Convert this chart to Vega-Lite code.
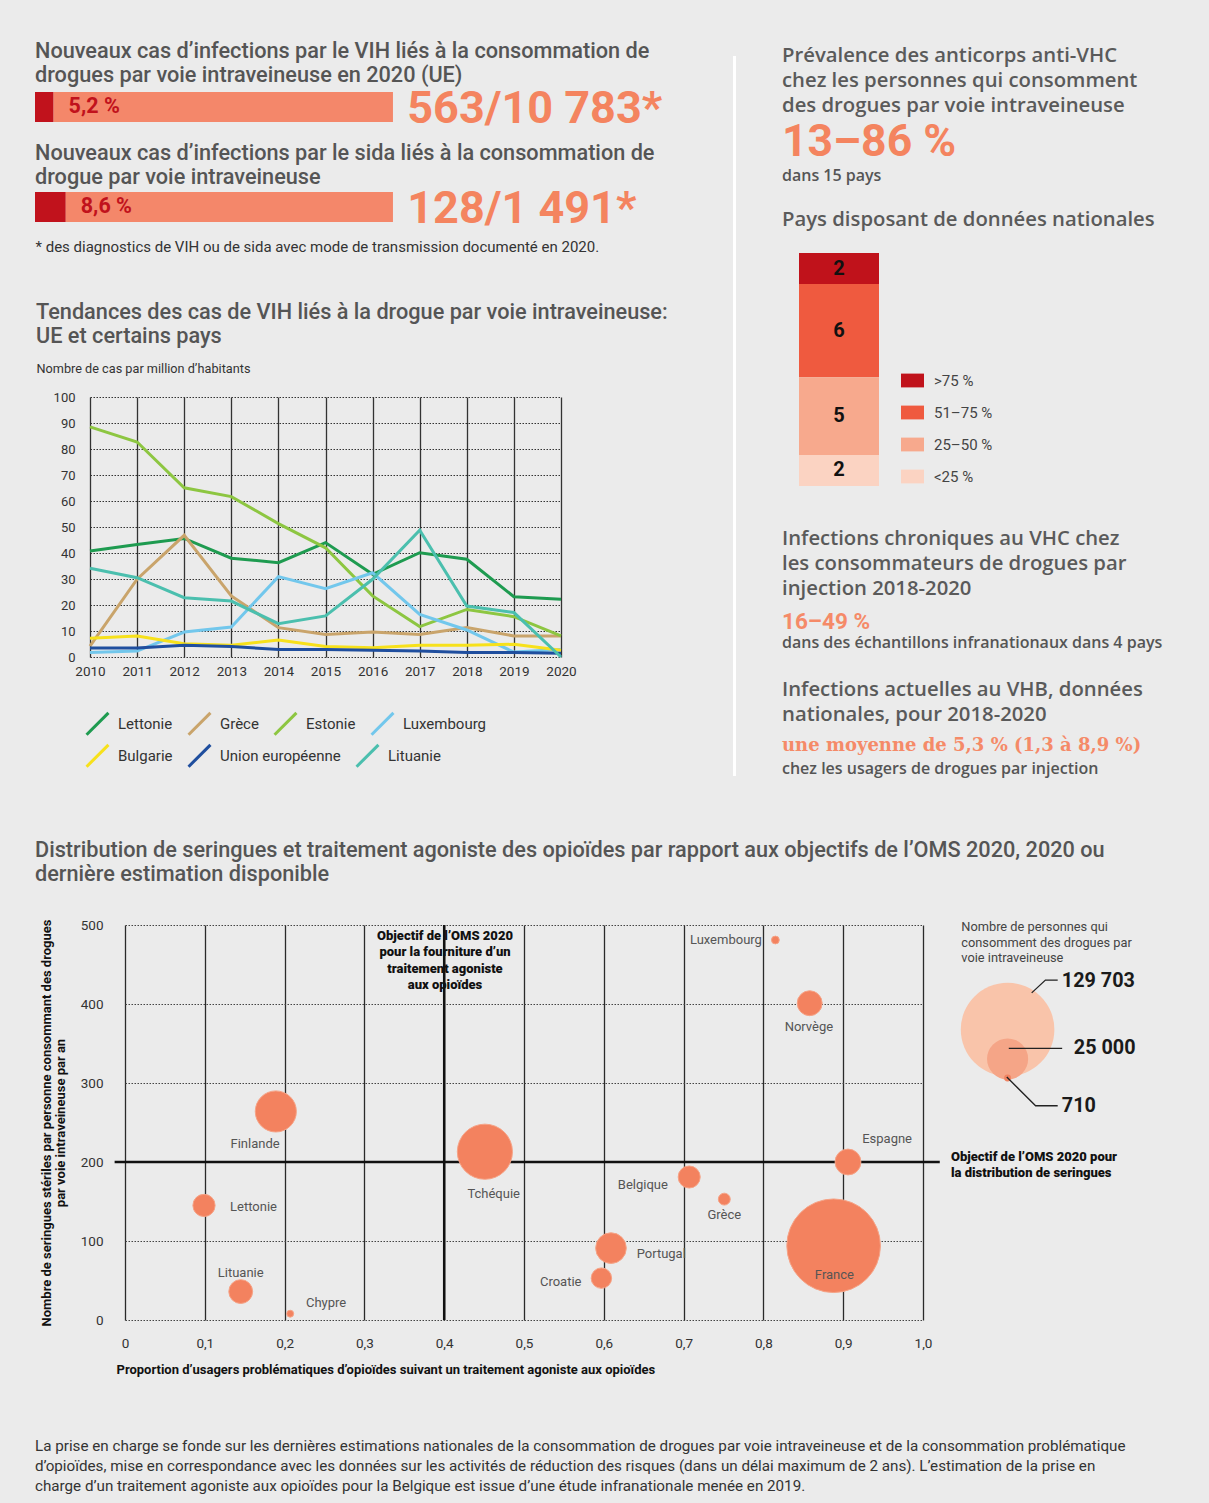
{
  "$schema": "https://vega.github.io/schema/vega-lite/v6.json",
  "background": "#ebebeb",
  "padding": {"left": 35, "top": 29, "right": 50, "bottom": 30},
  "config": {
    "view": {"stroke": null},
    "font": "Roboto",
    "title": {"anchor": "start", "frame": "bounds", "font": "Roboto", "fontWeight": 500, "fontSize": 21.7, "color": "#555555", "lineHeight": 24, "offset": 0},
    "axis": {"labelFont": "Roboto", "titleFont": "Roboto", "labelFlush": false},
    "legend": {"labelFont": "Roboto"}
  },
  "columns": 1,
  "spacing": 62,
  "resolve": {"scale": {"color": "independent"}, "legend": {"color": "independent"}},
  "concat": [
    {
      "columns": 2,
      "spacing": 65,
      "resolve": {"scale": {"color": "independent", "stroke": "independent"}, "legend": {"color": "independent", "stroke": "independent"}},
      "concat": [
        {
          "columns": 1,
          "spacing": 0,
          "resolve": {"scale": {"color": "independent", "stroke": "independent"}, "legend": {"color": "independent", "stroke": "independent"}},
          "concat": [
            {"width": 1, "height": 1, "data": {"values": [{}]}, "mark": {"type": "text"}, "encoding": {"text": {"value": ""}}},
            {
              "columns": 1,
              "spacing": 48,
              "resolve": {"scale": {"color": "independent", "stroke": "independent"}, "legend": {"color": "independent", "stroke": "independent"}},
              "concat": [
                {
                  "columns": 1,
                  "spacing": 11,
                  "resolve": {"scale": {"color": "independent"}, "legend": {"color": "independent"}},
                  "concat": [
                    {
                      "width": 630, "height": 30,
                      "title": {"text": ["Nouveaux cas d’infections par le VIH liés à la consommation de", "drogues par voie intraveineuse en 2020 (UE)"], "offset": 0},
                      "data": {"values": [
                        {"indicateur": "VIH", "categorie": "Consommation par voie intraveineuse", "part": 5.2, "rang": 1, "etiquette": "5,2 %", "total": "563/10 783*"},
                        {"indicateur": "VIH", "categorie": "Autres", "part": 94.8, "rang": 2, "etiquette": "", "total": ""}
                      ]},
                      "layer": [
                        {"mark": {"type": "bar"}, "encoding": {
                          "y": {"field": "indicateur", "type": "nominal", "axis": null, "scale": {"paddingInner": 0, "paddingOuter": 0}},
                          "x": {"field": "part", "type": "quantitative", "stack": "zero", "scale": {"domain": [0, 176], "nice": false}, "axis": null},
                          "color": {"field": "categorie", "type": "nominal", "scale": {"domain": ["Consommation par voie intraveineuse", "Autres"], "range": ["#c1121c", "#f4876a"]}, "legend": null},
                          "order": {"field": "rang"}
                        }},
                        {"transform": [{"filter": "datum.rang == 1"}], "mark": {"type": "text", "align": "left", "dx": 15, "fontSize": 21.5, "fontWeight": "bold", "color": "#c1121c"}, "encoding": {
                          "y": {"field": "indicateur", "type": "nominal"},
                          "x": {"field": "part", "type": "quantitative"}, "text": {"field": "etiquette"}}},
                        {"transform": [{"filter": "datum.rang == 1"}], "mark": {"type": "text", "align": "left", "dy": 2, "fontSize": 45, "fontWeight": "bold", "color": "#f4845f"}, "encoding": {
                          "y": {"field": "indicateur", "type": "nominal"},
                          "x": {"datum": 104}, "text": {"field": "total"}}}
                      ]
                    },
                    {
                      "width": 630, "height": 30,
                      "title": {"text": ["Nouveaux cas d’infections par le sida liés à la consommation de", "drogue par voie intraveineuse"], "offset": -2},
                      "data": {"values": [
                        {"indicateur": "sida", "categorie": "Consommation par voie intraveineuse", "part": 8.6, "rang": 1, "etiquette": "8,6 %", "total": "128/1 491*"},
                        {"indicateur": "sida", "categorie": "Autres", "part": 91.4, "rang": 2, "etiquette": "", "total": ""}
                      ]},
                      "layer": [
                        {"mark": {"type": "bar"}, "encoding": {
                          "y": {"field": "indicateur", "type": "nominal", "axis": null, "scale": {"paddingInner": 0, "paddingOuter": 0}},
                          "x": {"field": "part", "type": "quantitative", "stack": "zero", "scale": {"domain": [0, 176], "nice": false},
                            "axis": {"labels": false, "ticks": false, "domain": false, "grid": false, "title": "* des diagnostics de VIH ou de sida avec mode de transmission documenté en 2020.", "titleFontSize": 15, "titleFontWeight": "normal", "titleColor": "#333", "titleAnchor": "start", "titlePadding": 17}},
                          "color": {"field": "categorie", "type": "nominal", "scale": {"domain": ["Consommation par voie intraveineuse", "Autres"], "range": ["#c1121c", "#f4876a"]}, "legend": null},
                          "order": {"field": "rang"}
                        }},
                        {"transform": [{"filter": "datum.rang == 1"}], "mark": {"type": "text", "align": "left", "dx": 15, "fontSize": 21.5, "fontWeight": "bold", "color": "#c1121c"}, "encoding": {
                          "y": {"field": "indicateur", "type": "nominal"},
                          "x": {"field": "part", "type": "quantitative"}, "text": {"field": "etiquette"}}},
                        {"transform": [{"filter": "datum.rang == 1"}], "mark": {"type": "text", "align": "left", "dy": 2, "fontSize": 45, "fontWeight": "bold", "color": "#f4845f"}, "encoding": {
                          "y": {"field": "indicateur", "type": "nominal"},
                          "x": {"datum": 104}, "text": {"field": "total"}}}
                      ]
                    }
                  ]
                },
                {
                  "columns": 2,
                  "spacing": 0,
                  "resolve": {"scale": {"color": "independent", "stroke": "independent"}, "legend": {"color": "independent", "stroke": "independent"}},
                  "concat": [
                    {"width": 1, "height": 1, "data": {"values": [{}]}, "mark": {"type": "text"}, "encoding": {"text": {"value": ""}}},
                    {
                      "width": 471, "height": 260,
                      "title": {"text": ["Tendances des cas de VIH liés à la drogue par voie intraveineuse:", "UE et certains pays"], "offset": 14},
                      "data": {"values": [
                        {"pays": "Lettonie", "annee": 2010, "cas": 40.8}, {"pays": "Lettonie", "annee": 2011, "cas": 43.3}, {"pays": "Lettonie", "annee": 2012, "cas": 45.6}, {"pays": "Lettonie", "annee": 2013, "cas": 38}, {"pays": "Lettonie", "annee": 2014, "cas": 36.3}, {"pays": "Lettonie", "annee": 2015, "cas": 44}, {"pays": "Lettonie", "annee": 2016, "cas": 31.8}, {"pays": "Lettonie", "annee": 2017, "cas": 40.1}, {"pays": "Lettonie", "annee": 2018, "cas": 37.6}, {"pays": "Lettonie", "annee": 2019, "cas": 23.2}, {"pays": "Lettonie", "annee": 2020, "cas": 22.2},
                        {"pays": "Grèce", "annee": 2010, "cas": 4.2}, {"pays": "Grèce", "annee": 2011, "cas": 29.9}, {"pays": "Grèce", "annee": 2012, "cas": 46.8}, {"pays": "Grèce", "annee": 2013, "cas": 23.5}, {"pays": "Grèce", "annee": 2014, "cas": 11.3}, {"pays": "Grèce", "annee": 2015, "cas": 8.7}, {"pays": "Grèce", "annee": 2016, "cas": 9.6}, {"pays": "Grèce", "annee": 2017, "cas": 8.7}, {"pays": "Grèce", "annee": 2018, "cas": 11.3}, {"pays": "Grèce", "annee": 2019, "cas": 8.1}, {"pays": "Grèce", "annee": 2020, "cas": 8.1},
                        {"pays": "Estonie", "annee": 2010, "cas": 88.5}, {"pays": "Estonie", "annee": 2011, "cas": 82.7}, {"pays": "Estonie", "annee": 2012, "cas": 65.1}, {"pays": "Estonie", "annee": 2013, "cas": 61.7}, {"pays": "Estonie", "annee": 2014, "cas": 51.3}, {"pays": "Estonie", "annee": 2015, "cas": 42}, {"pays": "Estonie", "annee": 2016, "cas": 23.5}, {"pays": "Estonie", "annee": 2017, "cas": 11.7}, {"pays": "Estonie", "annee": 2018, "cas": 18.3}, {"pays": "Estonie", "annee": 2019, "cas": 15.5}, {"pays": "Estonie", "annee": 2020, "cas": 8.1},
                        {"pays": "Luxembourg", "annee": 2010, "cas": 1.7}, {"pays": "Luxembourg", "annee": 2011, "cas": 2.3}, {"pays": "Luxembourg", "annee": 2012, "cas": 9.6}, {"pays": "Luxembourg", "annee": 2013, "cas": 11.5}, {"pays": "Luxembourg", "annee": 2014, "cas": 30.9}, {"pays": "Luxembourg", "annee": 2015, "cas": 26.3}, {"pays": "Luxembourg", "annee": 2016, "cas": 32.4}, {"pays": "Luxembourg", "annee": 2017, "cas": 16.4}, {"pays": "Luxembourg", "annee": 2018, "cas": 10.4}, {"pays": "Luxembourg", "annee": 2019, "cas": 1.9}, {"pays": "Luxembourg", "annee": 2020, "cas": 2.9},
                        {"pays": "Bulgarie", "annee": 2010, "cas": 7.2}, {"pays": "Bulgarie", "annee": 2011, "cas": 8.1}, {"pays": "Bulgarie", "annee": 2012, "cas": 5.1}, {"pays": "Bulgarie", "annee": 2013, "cas": 4.5}, {"pays": "Bulgarie", "annee": 2014, "cas": 6.5}, {"pays": "Bulgarie", "annee": 2015, "cas": 4}, {"pays": "Bulgarie", "annee": 2016, "cas": 3.6}, {"pays": "Bulgarie", "annee": 2017, "cas": 4.5}, {"pays": "Bulgarie", "annee": 2018, "cas": 4.5}, {"pays": "Bulgarie", "annee": 2019, "cas": 4.9}, {"pays": "Bulgarie", "annee": 2020, "cas": 2.6},
                        {"pays": "Union européenne", "annee": 2010, "cas": 3.5}, {"pays": "Union européenne", "annee": 2011, "cas": 3.5}, {"pays": "Union européenne", "annee": 2012, "cas": 4.5}, {"pays": "Union européenne", "annee": 2013, "cas": 4}, {"pays": "Union européenne", "annee": 2014, "cas": 2.9}, {"pays": "Union européenne", "annee": 2015, "cas": 2.9}, {"pays": "Union européenne", "annee": 2016, "cas": 2.6}, {"pays": "Union européenne", "annee": 2017, "cas": 2.3}, {"pays": "Union européenne", "annee": 2018, "cas": 1.7}, {"pays": "Union européenne", "annee": 2019, "cas": 1.7}, {"pays": "Union européenne", "annee": 2020, "cas": 1.4},
                        {"pays": "Lituanie", "annee": 2010, "cas": 34.1}, {"pays": "Lituanie", "annee": 2011, "cas": 30.5}, {"pays": "Lituanie", "annee": 2012, "cas": 22.8}, {"pays": "Lituanie", "annee": 2013, "cas": 21.5}, {"pays": "Lituanie", "annee": 2014, "cas": 12.8}, {"pays": "Lituanie", "annee": 2015, "cas": 15.8}, {"pays": "Lituanie", "annee": 2016, "cas": 29.9}, {"pays": "Lituanie", "annee": 2017, "cas": 48.8}, {"pays": "Lituanie", "annee": 2018, "cas": 19.6}, {"pays": "Lituanie", "annee": 2019, "cas": 17.1}, {"pays": "Lituanie", "annee": 2020, "cas": 0}
                      ]},
                      "encoding": {
                        "x": {"field": "annee", "type": "quantitative", "scale": {"domain": [2010, 2020], "nice": false, "zero": false},
                          "axis": {"values": [2010, 2011, 2012, 2013, 2014, 2015, 2016, 2017, 2018, 2019, 2020], "format": "d", "title": null, "grid": true, "gridColor": "#333", "gridWidth": 1.3, "domain": false, "ticks": false, "labelFontSize": 13.5, "labelColor": "#333", "labelPadding": 7}},
                        "y": {"field": "cas", "type": "quantitative", "scale": {"domain": [0, 100], "nice": false},
                          "axis": {"values": [0, 10, 20, 30, 40, 50, 60, 70, 80, 90, 100], "title": "Nombre de cas par million d’habitants", "titleAngle": 0, "titleAlign": "left", "titleBaseline": "bottom", "titleX": -54, "titleY": -22, "titleFontSize": 12.7, "titleFontWeight": "normal", "titleColor": "#333", "grid": true, "gridDash": [1.5, 1.5], "gridColor": "#333", "gridWidth": 1, "domain": false, "ticks": false, "labelPadding": 15, "labelFontSize": 13, "labelColor": "#333"}}
                      },
                      "layer": [
                        {
                          "transform": [{"filter": {"field": "pays", "oneOf": ["Lettonie", "Grèce", "Estonie", "Luxembourg"]}}],
                          "mark": {"type": "line", "strokeWidth": 3},
                          "encoding": {
                            "color": {"field": "pays", "type": "nominal",
                              "scale": {"domain": ["Lettonie", "Grèce", "Estonie", "Luxembourg"], "range": ["#1e9b50", "#c9a46b", "#8dc641", "#72c7ec"]},
                              "legend": {"orient": "none", "legendX": -5, "legendY": 314, "direction": "horizontal", "title": null, "symbolType": "M-1,1L1,-1", "symbolSize": 480, "symbolStrokeWidth": 3, "labelFontSize": 15, "labelColor": "#333", "labelOffset": 8, "columnPadding": 9}}
                          }
                        },
                        {
                          "transform": [{"filter": {"field": "pays", "oneOf": ["Bulgarie", "Union européenne", "Lituanie"]}}],
                          "mark": {"type": "line", "strokeWidth": 3},
                          "encoding": {
                            "stroke": {"field": "pays", "type": "nominal",
                              "scale": {"domain": ["Bulgarie", "Union européenne", "Lituanie"], "range": ["#f7e11b", "#1f4e9e", "#4bbfae"]},
                              "legend": {"orient": "none", "legendX": -5, "legendY": 346, "direction": "horizontal", "title": null, "symbolType": "M-1,1L1,-1", "symbolSize": 480, "symbolStrokeWidth": 3, "labelFontSize": 15, "labelColor": "#333", "labelOffset": 8, "columnPadding": 9}}
                          }
                        }
                      ]
                    }
                  ]
                }
              ]
            }
          ]
        },
        {
          "columns": 2,
          "spacing": 46,
          "resolve": {"scale": {"color": "independent"}, "legend": {"color": "independent"}},
          "concat": [
            {
              "width": 3, "height": 741,
              "data": {"values": [{"debut": 0, "fin": 720}]},
              "mark": {"type": "rule", "color": "#ffffff", "strokeWidth": 3},
              "encoding": {
                "y": {"field": "debut", "type": "quantitative", "scale": {"domain": [0, 741], "nice": false}, "axis": null},
                "y2": {"field": "fin"}
              }
            },
            {
              "columns": 1,
              "spacing": 5,
              "resolve": {"scale": {"color": "independent"}, "legend": {"color": "independent"}},
              "concat": [
                {"width": 1, "height": 1, "data": {"values": [{}]}, "mark": {"type": "text"}, "encoding": {"text": {"value": ""}}},
                {
                  "columns": 1,
                  "spacing": 43,
                  "resolve": {"scale": {"color": "independent"}, "legend": {"color": "independent"}},
                  "concat": [
                    {
                      "columns": 1,
                      "spacing": 24,
                      "resolve": {"scale": {"color": "independent"}, "legend": {"color": "independent"}},
                      "concat": [
                        {
                          "width": 380, "height": 18,
                          "title": {"text": ["Prévalence des anticorps anti-VHC", "chez les personnes qui consomment", "des drogues par voie intraveineuse"], "font": "Open Sans", "fontWeight": 600, "fontSize": 20.3, "lineHeight": 25, "color": "#5a5a5a",
                            "subtitle": "13–86 %", "subtitleFont": "Roboto", "subtitleFontSize": 44.5, "subtitleFontWeight": "bold", "subtitleColor": "#f4845f", "subtitlePadding": 4, "subtitleLineHeight": 48, "offset": 3},
                          "data": {"values": [{"note": "dans 15 pays"}]},
                          "mark": {"type": "text", "align": "left", "baseline": "middle", "font": "Open Sans", "fontSize": 16, "fontWeight": 600, "color": "#555"},
                          "encoding": {"text": {"field": "note"}, "x": {"datum": 0, "type": "quantitative", "scale": {"domain": [0, 1]}, "axis": null}}
                        },
                        {
                          "width": 114, "height": 233,
                          "title": {"text": "Pays disposant de données nationales", "font": "Open Sans", "fontWeight": 600, "fontSize": 20.3, "color": "#5a5a5a", "offset": 23},
                          "data": {"values": [
                            {"groupe": "Pays", "prevalence": ">75 %", "pays": 2, "rang": 4},
                            {"groupe": "Pays", "prevalence": "51–75 %", "pays": 6, "rang": 3},
                            {"groupe": "Pays", "prevalence": "25–50 %", "pays": 5, "rang": 2},
                            {"groupe": "Pays", "prevalence": "<25 %", "pays": 2, "rang": 1}
                          ]},
                          "transform": [
                            {"stack": "pays", "groupby": ["groupe"], "sort": [{"field": "rang", "order": "ascending"}], "as": ["debut", "fin"]},
                            {"calculate": "(datum.debut + datum.fin) / 2", "as": "milieu"}
                          ],
                          "layer": [
                            {"mark": {"type": "bar", "width": 80}, "encoding": {
                              "x": {"field": "groupe", "type": "nominal", "axis": null},
                              "y": {"field": "debut", "type": "quantitative", "scale": {"domain": [0, 15], "nice": false}, "axis": null},
                              "y2": {"field": "fin"},
                              "color": {"field": "prevalence", "type": "nominal",
                                "scale": {"domain": [">75 %", "51–75 %", "25–50 %", "<25 %"], "range": ["#c0121b", "#ef5a3f", "#f7a98d", "#fbd3c2"]},
                                "legend": {"orient": "none", "legendX": 119, "legendY": 116, "title": null, "symbolType": "M-1,-0.6H1V0.6H-1Z", "symbolSize": 529, "symbolStrokeWidth": 0, "labelFontSize": 15, "labelColor": "#444", "labelOffset": 10, "rowPadding": 12}}
                            }},
                            {"mark": {"type": "text", "fontSize": 20, "fontWeight": "bold", "color": "#111", "baseline": "middle"}, "encoding": {
                              "x": {"field": "groupe", "type": "nominal"},
                              "y": {"field": "milieu", "type": "quantitative"},
                              "text": {"field": "pays"}
                            }}
                          ]
                        }
                      ]
                    },
                    {
                      "columns": 1,
                      "spacing": 27,
                      "concat": [
                        {
                          "width": 380, "height": 18,
                          "title": {"text": ["Infections chroniques au VHC chez", "les consommateurs de drogues par", "injection 2018-2020"], "font": "Open Sans", "fontWeight": 600, "fontSize": 20.3, "lineHeight": 25, "color": "#5a5a5a",
                            "subtitle": "16–49 %", "subtitleFont": "Roboto", "subtitleFontSize": 22.5, "subtitleFontWeight": "bold", "subtitleColor": "#f58a68", "subtitlePadding": 11, "offset": 1},
                          "data": {"values": [{"note": "dans des échantillons infranationaux dans 4 pays"}]},
                          "mark": {"type": "text", "align": "left", "baseline": "middle", "font": "Open Sans", "fontSize": 16, "fontWeight": 600, "color": "#555"},
                          "encoding": {"text": {"field": "note"}, "x": {"datum": 0, "type": "quantitative", "scale": {"domain": [0, 1]}, "axis": null}}
                        },
                        {
                          "width": 380, "height": 18,
                          "title": {"text": ["Infections actuelles au VHB, données", "nationales, pour 2018-2020"], "font": "Open Sans", "fontWeight": 600, "fontSize": 20.3, "lineHeight": 25, "color": "#5a5a5a",
                            "subtitle": "une moyenne de 5,3 % (1,3 à 8,9 %)", "subtitleFont": "DejaVu Serif", "subtitleFontSize": 18, "subtitleFontWeight": "bold", "subtitleColor": "#f58a68", "subtitlePadding": 12, "offset": 5},
                          "data": {"values": [{"note": "chez les usagers de drogues par injection"}]},
                          "mark": {"type": "text", "align": "left", "baseline": "middle", "font": "Open Sans", "fontSize": 16, "fontWeight": 600, "color": "#555"},
                          "encoding": {"text": {"field": "note"}, "x": {"datum": 0, "type": "quantitative", "scale": {"domain": [0, 1]}, "axis": null}}
                        }
                      ]
                    }
                  ]
                }
              ]
            }
          ]
        }
      ]
    },
    {
      "columns": 2,
      "spacing": 4,
      "title": {"text": ["Distribution de seringues et traitement agoniste des opioïdes par rapport aux objectifs de l’OMS 2020, 2020 ou", "dernière estimation disponible"], "offset": 32},
      "resolve": {"scale": {"color": "independent"}, "legend": {"color": "independent"}},
      "concat": [
        {"width": 1, "height": 1, "data": {"values": [{}]}, "mark": {"type": "text"}, "encoding": {"text": {"value": ""}}},
        {
          "width": 798, "height": 395,
          "layer": [
            {
              "data": {"values": [{"objectif": 0.4, "bas": 0, "haut": 500}]},
              "mark": {"type": "rule", "color": "#111", "strokeWidth": 2.5},
              "encoding": {
                "x": {"field": "objectif", "type": "quantitative", "scale": {"domain": [0, 1], "nice": false},
                  "axis": {"values": [0, 0.1, 0.2, 0.3, 0.4, 0.5, 0.6, 0.7, 0.8, 0.9, 1], "labelExpr": "datum.value == 0 ? '0' : replace(format(datum.value, '.1f'), '.', ',')", "grid": true, "gridColor": "#2a2a2a", "gridWidth": 1.3, "domain": false, "ticks": false, "labelPadding": 16, "labelFontSize": 13.5, "labelColor": "#333",
                    "title": "Proportion d’usagers problématiques d’opioïdes suivant un traitement agoniste aux opioïdes", "titleFontSize": 13, "titleFontWeight": "bold", "titleColor": "#111", "titleAlign": "left", "titleX": -9, "titlePadding": 14}},
                "y": {"field": "bas", "type": "quantitative", "scale": {"domain": [0, 500], "nice": false},
                  "axis": {"values": [0, 100, 200, 300, 400, 500], "grid": true, "gridDash": [1.5, 1.5], "gridColor": "#444", "gridWidth": 1, "domain": false, "ticks": false, "labelPadding": 22, "labelFontSize": 13.5, "labelColor": "#333",
                    "title": ["Nombre de seringues stériles par personne consommant des drogues", "par voie intraveineuse par an"], "titleFontSize": 13, "titleFontWeight": "bold", "titleColor": "#111", "titleLineHeight": 14, "titlePadding": 13}},
                "y2": {"field": "haut"}
              }
            },
            {
              "data": {"values": [{"objectif": 200, "debut": -0.013, "fin": 1.021}]},
              "mark": {"type": "rule", "color": "#111", "strokeWidth": 2.5},
              "encoding": {
                "y": {"field": "objectif", "type": "quantitative"},
                "x": {"field": "debut", "type": "quantitative"},
                "x2": {"field": "fin"}
              }
            },
            {
              "data": {"values": [
                {"pays": "Finlande", "traitement": 0.189, "seringues": 264, "pop": 25000, "lx": 0.163, "ly": 223},
                {"pays": "Tchéquie", "traitement": 0.451, "seringues": 213, "pop": 45000, "lx": 0.462, "ly": 160},
                {"pays": "Lettonie", "traitement": 0.099, "seringues": 145, "pop": 7300, "lx": 0.161, "ly": 143},
                {"pays": "Lituanie", "traitement": 0.145, "seringues": 36, "pop": 8400, "lx": 0.145, "ly": 60},
                {"pays": "Chypre", "traitement": 0.207, "seringues": 8, "pop": 710, "lx": 0.252, "ly": 22},
                {"pays": "Croatie", "traitement": 0.597, "seringues": 53, "pop": 6200, "lx": 0.546, "ly": 48},
                {"pays": "Portugal", "traitement": 0.609, "seringues": 91, "pop": 13900, "lx": 0.672, "ly": 84},
                {"pays": "Belgique", "traitement": 0.707, "seringues": 181, "pop": 7200, "lx": 0.649, "ly": 171},
                {"pays": "Grèce", "traitement": 0.751, "seringues": 153, "pop": 2100, "lx": 0.751, "ly": 133},
                {"pays": "France", "traitement": 0.888, "seringues": 94, "pop": 129703, "lx": 0.889, "ly": 57},
                {"pays": "Espagne", "traitement": 0.906, "seringues": 200, "pop": 9900, "lx": 0.955, "ly": 229},
                {"pays": "Norvège", "traitement": 0.858, "seringues": 401, "pop": 9200, "lx": 0.857, "ly": 371},
                {"pays": "Luxembourg", "traitement": 0.815, "seringues": 481, "pop": 900, "lx": 0.753, "ly": 481}
              ]},
              "layer": [
                {
                  "mark": {"type": "circle", "opacity": 1, "color": "#f3825f", "stroke": "#f6a386", "strokeWidth": 1},
                  "encoding": {
                    "x": {"field": "traitement", "type": "quantitative"},
                    "y": {"field": "seringues", "type": "quantitative"},
                    "size": {"field": "pop", "type": "quantitative", "scale": {"type": "linear", "domain": [0, 129703], "range": [0, 8760]}, "legend": null},
                    "order": {"field": "pop", "sort": "descending"}
                  }
                },
                {
                  "mark": {"type": "text", "fontSize": 13, "color": "#555", "baseline": "middle"},
                  "encoding": {
                    "x": {"field": "lx", "type": "quantitative"},
                    "y": {"field": "ly", "type": "quantitative"},
                    "text": {"field": "pays"}
                  }
                }
              ]
            },
            {
              "data": {"values": [
                {"texte": "Objectif de l’OMS 2020\npour la fourniture d’un\ntraitement agoniste\naux opioïdes", "x": 0.401, "y": 494}
              ]},
              "mark": {"type": "text", "align": "center", "baseline": "top", "lineBreak": "\n", "lineHeight": 16.5, "fontSize": 13, "fontWeight": 900, "color": "#111"},
              "encoding": {"x": {"field": "x", "type": "quantitative"}, "y": {"field": "y", "type": "quantitative"}, "text": {"field": "texte"}}
            },
            {
              "data": {"values": [
                {"texte": "Objectif de l’OMS 2020 pour\nla distribution de seringues", "x": 1.035, "y": 214},
                {"texte": "Nombre de personnes qui\nconsomment des drogues par\nvoie intraveineuse", "x": 1.048, "y": 505}
              ]},
              "layer": [
                {"transform": [{"filter": "datum.y < 300"}], "mark": {"type": "text", "align": "left", "baseline": "top", "lineBreak": "\n", "lineHeight": 16, "fontSize": 13, "fontWeight": 900, "color": "#111"},
                  "encoding": {"x": {"field": "x", "type": "quantitative"}, "y": {"field": "y", "type": "quantitative"}, "text": {"field": "texte"}}},
                {"transform": [{"filter": "datum.y > 300"}], "mark": {"type": "text", "align": "left", "baseline": "top", "lineBreak": "\n", "lineHeight": 15.5, "fontSize": 12.8, "color": "#444"},
                  "encoding": {"x": {"field": "x", "type": "quantitative"}, "y": {"field": "y", "type": "quantitative"}, "text": {"field": "texte"}}}
              ]
            },
            {
              "data": {"values": [
                {"valeur": "129 703", "pop": 129703, "cx": 1.106, "cy": 367.7, "lx": 1.174, "ly": 429.5},
                {"valeur": "25 000", "pop": 25000, "cx": 1.106, "cy": 330.4, "lx": 1.189, "ly": 344.2},
                {"valeur": "710", "pop": 710, "cx": 1.106, "cy": 306.3, "lx": 1.174, "ly": 270.5}
              ]},
              "layer": [
                {
                  "mark": {"type": "circle", "opacity": 1},
                  "encoding": {
                    "x": {"field": "cx", "type": "quantitative"},
                    "y": {"field": "cy", "type": "quantitative"},
                    "size": {"field": "pop", "type": "quantitative"},
                    "color": {"field": "valeur", "type": "nominal", "scale": {"domain": ["129 703", "25 000", "710"], "range": ["#f9c4aa", "#f5a587", "#f08361"]}, "legend": null},
                    "order": {"field": "pop", "sort": "descending"}
                  }
                },
                {
                  "mark": {"type": "text", "align": "left", "baseline": "middle", "fontSize": 19.8, "fontWeight": "bold", "color": "#1a1a1a"},
                  "encoding": {
                    "x": {"field": "lx", "type": "quantitative"},
                    "y": {"field": "ly", "type": "quantitative"},
                    "text": {"field": "valeur"}
                  }
                }
              ]
            },
            {
              "data": {"values": [
                {"trait": "a", "rang": 1, "x": 1.1362, "y": 414.1}, {"trait": "a", "rang": 2, "x": 1.1534, "y": 430.2}, {"trait": "a", "rang": 3, "x": 1.1688, "y": 430.2},
                {"trait": "b", "rang": 1, "x": 1.1075, "y": 343.9}, {"trait": "b", "rang": 2, "x": 1.1744, "y": 343.9},
                {"trait": "c", "rang": 1, "x": 1.105, "y": 307.5}, {"trait": "c", "rang": 2, "x": 1.1411, "y": 271.2}, {"trait": "c", "rang": 3, "x": 1.1688, "y": 271.2}
              ]},
              "mark": {"type": "line", "color": "#222", "strokeWidth": 1.3},
              "encoding": {
                "x": {"field": "x", "type": "quantitative"},
                "y": {"field": "y", "type": "quantitative"},
                "detail": {"field": "trait"},
                "order": {"field": "rang"}
              }
            }
          ]
        }
      ]
    },
    {
      "width": 1100, "height": 1,
      "title": {"text": ["La prise en charge se fonde sur les dernières estimations nationales de la consommation de drogues par voie intraveineuse et de la consommation problématique", "d’opioïdes, mise en correspondance avec les données sur les activités de réduction des risques (dans un délai maximum de 2 ans). L’estimation de la prise en", "charge d’un traitement agoniste aux opioïdes pour la Belgique est issue d’une étude infranationale menée en 2019."], "fontSize": 15.2, "fontWeight": "normal", "color": "#333", "lineHeight": 20, "offset": 0},
      "data": {"values": [{"texte": ""}]},
      "mark": {"type": "text"},
      "encoding": {"text": {"field": "texte"}}
    }
  ]
}
